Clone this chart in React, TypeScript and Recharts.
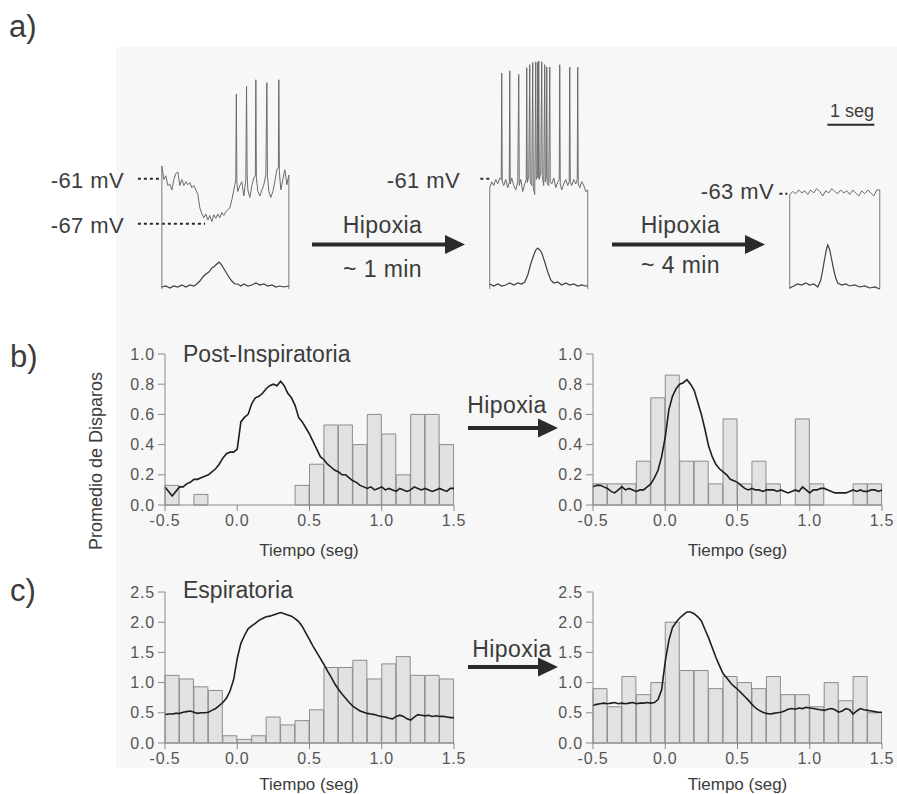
import React from "react"
import { Bar, ComposedChart, Line, LineChart, ReferenceLine, XAxis, YAxis } from "recharts"

const FUENTE = '"Liberation Sans", Arial, Helvetica, sans-serif'
const TEXTO = "#3c3c3c"
const EJE = "#8a8a8a"

// ---------- a) registros intracelulares (t en s, Vm en mV) ----------
const vmControl: [number, number][] = [
  [0, -59.3], [0.043, -61.1], [0.085, -60.6], [0.128, -61.9], [0.17, -61.7], [0.213, -62.5],
  [0.255, -61.1], [0.298, -60.3], [0.34, -60.1], [0.383, -61.9], [0.426, -61.1], [0.468, -61.9],
  [0.511, -61.4], [0.553, -61.8], [0.596, -61.5], [0.638, -62.2], [0.681, -61.9], [0.723, -62.5],
  [0.766, -63.1], [0.809, -64.9], [0.851, -65.7], [0.894, -66.2], [0.936, -65.7], [0.979, -66.5],
  [1.021, -65.9], [1.064, -66.7], [1.106, -65.8], [1.149, -66.3], [1.191, -65.7], [1.234, -66.2],
  [1.277, -65.5], [1.319, -65.9], [1.362, -65.4], [1.404, -65.1], [1.447, -64.9], [1.489, -63.8],
  [1.532, -62.5], [1.553, -61.8], [1.574, -61.1], [1.585, -49.7], [1.596, -61.5], [1.617, -62.7],
  [1.66, -61.9], [1.702, -61.4], [1.745, -63.3], [1.787, -61.1], [1.802, -48.7], [1.815, -60.5],
  [1.83, -62.5], [1.872, -63.5], [1.915, -61.9], [1.957, -60.9], [1.989, -60.6], [2.0, -47.8],
  [2.011, -60.9], [2.043, -62.7], [2.085, -63.3], [2.128, -62.5], [2.17, -61.8], [2.213, -60.5],
  [2.234, -48.2], [2.247, -60.6], [2.277, -62.7], [2.319, -63.5], [2.362, -62.7], [2.404, -61.4],
  [2.447, -59.8], [2.479, -59.5], [2.489, -47.8], [2.5, -60.1], [2.532, -62.5], [2.574, -61.1],
  [2.617, -59.8], [2.66, -61.8], [2.702, -60.5],
]
const vmHipoxia1: [number, number][] = [
  [0, -62.2], [0.043, -61.4], [0.085, -61.9], [0.128, -61.1], [0.17, -61.7], [0.213, -60.9],
  [0.245, -61.1], [0.255, -46.9], [0.266, -61.4], [0.298, -61.9], [0.34, -61.1], [0.383, -62.2],
  [0.415, -61.5], [0.426, -46.6], [0.436, -61.7], [0.468, -60.9], [0.511, -61.9], [0.553, -62.5],
  [0.596, -61.4], [0.617, -47.1], [0.628, -61.9], [0.66, -61.1], [0.702, -62.7], [0.745, -61.7],
  [0.777, -61.1], [0.787, -46.2], [0.798, -61.5], [0.83, -60.6], [0.851, -45.8], [0.862, -61.4],
  [0.894, -61.9], [0.915, -45.5], [0.926, -62.2], [0.957, -63.1], [0.979, -45.4], [0.989, -61.1],
  [1.011, -60.6], [1.021, -45.5], [1.032, -60.9], [1.043, -45.3], [1.053, -61.1], [1.085, -60.1],
  [1.106, -45.4], [1.117, -60.6], [1.149, -61.9], [1.17, -45.8], [1.181, -61.4], [1.202, -60.9],
  [1.213, -46.1], [1.223, -61.7], [1.255, -61.9], [1.277, -46.1], [1.287, -61.4], [1.319, -61.7],
  [1.362, -60.9], [1.404, -62.2], [1.447, -61.4], [1.479, -61.1], [1.489, -45.8], [1.5, -61.7],
  [1.532, -62.5], [1.574, -61.7], [1.617, -61.1], [1.66, -61.9], [1.691, -61.4], [1.702, -46.1],
  [1.713, -61.4], [1.745, -61.9], [1.787, -61.1], [1.83, -61.7], [1.862, -61.1], [1.872, -46.1],
  [1.883, -61.7], [1.915, -62.2], [1.957, -61.4], [2.0, -61.9], [2.043, -62.7], [2.085, -62.5],
]
const vmHipoxia4: [number, number][] = [
  [0, -63.1], [0.064, -62.7], [0.128, -63.0], [0.191, -62.5], [0.255, -62.9], [0.319, -62.6],
  [0.383, -63.1], [0.447, -62.5], [0.511, -62.9], [0.574, -62.3], [0.638, -62.7], [0.702, -63.3],
  [0.766, -62.6], [0.83, -62.9], [0.894, -62.3], [0.957, -62.7], [1.021, -63.0], [1.085, -62.5],
  [1.149, -62.9], [1.213, -62.6], [1.277, -63.1], [1.34, -62.5], [1.404, -62.9], [1.468, -63.3],
  [1.532, -62.6], [1.596, -63.0], [1.66, -62.5], [1.723, -62.9], [1.787, -63.3], [1.851, -62.5],
  [1.915, -62.5],
]
// actividad integrada del nervio (u.a.)
const intControl: [number, number][] = [
  [0, 0.08], [0.085, 0.12], [0.17, 0.04], [0.255, 0.12], [0.34, 0.08], [0.426, 0.16], [0.511, 0.08],
  [0.596, 0.16], [0.681, 0.12], [0.745, 0.2], [0.809, 0.32], [0.872, 0.48], [0.936, 0.6], [1.0, 0.68],
  [1.064, 0.84], [1.128, 0.92], [1.17, 1.0], [1.213, 1.08], [1.255, 1.0], [1.298, 0.88], [1.362, 0.68],
  [1.426, 0.48], [1.489, 0.32], [1.553, 0.2], [1.617, 0.2], [1.681, 0.12], [1.745, 0.2], [1.83, 0.12],
  [1.915, 0.16], [2.0, 0.24], [2.085, 0.16], [2.17, 0.2], [2.255, 0.12], [2.34, 0.16], [2.426, 0.08],
  [2.511, 0.12], [2.596, 0.08], [2.702, 0.12],
]
const intHipoxia1: [number, number][] = [
  [0, 0.2], [0.085, 0.12], [0.17, 0.2], [0.255, 0.12], [0.34, 0.16], [0.426, 0.24], [0.511, 0.16],
  [0.596, 0.24], [0.681, 0.2], [0.745, 0.28], [0.809, 0.56], [0.872, 1.0], [0.936, 1.36], [0.979, 1.56],
  [1.021, 1.64], [1.064, 1.56], [1.106, 1.44], [1.17, 1.08], [1.234, 0.68], [1.298, 0.36], [1.362, 0.24],
  [1.447, 0.28], [1.532, 0.16], [1.617, 0.24], [1.702, 0.16], [1.787, 0.2], [1.872, 0.12], [1.957, 0.16],
  [2.043, 0.12], [2.085, 0.12],
]
const intHipoxia4: [number, number][] = [
  [0, 0.04], [0.085, 0.12], [0.17, 0.2], [0.255, 0.16], [0.34, 0.24], [0.426, 0.16], [0.511, 0.2],
  [0.596, 0.08], [0.66, 0.36], [0.702, 0.76], [0.745, 1.24], [0.787, 1.64], [0.809, 1.76], [0.851, 1.56],
  [0.894, 1.16], [0.936, 0.76], [0.979, 0.44], [1.021, 0.24], [1.106, 0.16], [1.191, 0.2], [1.277, 0.12],
  [1.383, 0.16], [1.489, 0.08], [1.596, 0.12], [1.702, 0.04], [1.809, 0.08], [1.915, 0],
]

// ---------- b) y c) histogramas + promedio ----------
const binsTiempo = [-0.5, -0.4, -0.3, -0.2, -0.1, 0, 0.1, 0.2, 0.3, 0.4, 0.5, 0.6, 0.7, 0.8, 0.9, 1.0, 1.1, 1.2, 1.3, 1.4]
const histPostControl = [0.13, 0, 0.07, 0, 0, 0, 0, 0, 0, 0.13, 0.27, 0.53, 0.53, 0.4, 0.6, 0.47, 0.2, 0.6, 0.6, 0.4]
const histPostHipoxia = [0.14, 0.14, 0.14, 0.29, 0.71, 0.86, 0.29, 0.29, 0.14, 0.57, 0.14, 0.29, 0.14, 0, 0.57, 0.14, 0, 0, 0.14, 0.14]
const histEspControl = [1.12, 1.06, 0.93, 0.87, 0.12, 0.06, 0.12, 0.43, 0.3, 0.37, 0.55, 1.25, 1.25, 1.37, 1.06, 1.31, 1.43, 1.12, 1.12, 1.06]
const histEspHipoxia = [0.9, 0.6, 1.1, 0.8, 1.0, 2.0, 1.2, 1.2, 0.9, 1.1, 1.0, 0.9, 1.1, 0.8, 0.8, 0.6, 1.0, 0.7, 1.1, 0.5]

// promedio continuo, muestreado cada 25 ms desde -0.5 s
const promPostControl = [
  0.12, 0.09, 0.06, 0.09, 0.12, 0.12, 0.14, 0.15, 0.17, 0.17,
  0.18, 0.19, 0.20, 0.22, 0.24, 0.27, 0.31, 0.34, 0.35, 0.35,
  0.37, 0.55, 0.58, 0.60, 0.67, 0.71, 0.72, 0.74, 0.77, 0.79,
  0.80, 0.79, 0.82, 0.79, 0.74, 0.71, 0.66, 0.58, 0.55, 0.51,
  0.47, 0.42, 0.37, 0.32, 0.30, 0.27, 0.25, 0.23, 0.22, 0.20,
  0.20, 0.18, 0.16, 0.15, 0.13, 0.12, 0.11, 0.12, 0.10, 0.11,
  0.12, 0.10, 0.11, 0.10, 0.09, 0.11, 0.10, 0.09, 0.10, 0.12,
  0.11, 0.10, 0.11, 0.10, 0.09, 0.10, 0.11, 0.10, 0.09, 0.11,
  0.11,
]
const promPostHipoxia = [
  0.12, 0.13, 0.13, 0.12, 0.11, 0.09, 0.08, 0.10, 0.12, 0.10,
  0.11, 0.10, 0.09, 0.10, 0.10, 0.12, 0.14, 0.18, 0.23, 0.32,
  0.45, 0.63, 0.72, 0.77, 0.80, 0.81, 0.83, 0.80, 0.76, 0.68,
  0.60, 0.50, 0.39, 0.32, 0.27, 0.24, 0.22, 0.20, 0.17, 0.16,
  0.15, 0.13, 0.11, 0.10, 0.11, 0.10, 0.10, 0.09, 0.10, 0.10,
  0.10, 0.09, 0.10, 0.09, 0.08, 0.09, 0.10, 0.09, 0.12, 0.10,
  0.08, 0.10, 0.10, 0.11, 0.11, 0.10, 0.09, 0.08, 0.08, 0.08,
  0.08, 0.09, 0.10, 0.09, 0.10, 0.09, 0.09, 0.10, 0.10, 0.09,
  0.10,
]
const promEspControl = [
  0.47, 0.48, 0.48, 0.49, 0.49, 0.51, 0.52, 0.53, 0.51, 0.49,
  0.50, 0.50, 0.51, 0.54, 0.57, 0.62, 0.67, 0.74, 0.86, 1.05,
  1.40, 1.65, 1.78, 1.89, 1.94, 1.98, 2.03, 2.06, 2.09, 2.10,
  2.12, 2.14, 2.16, 2.14, 2.12, 2.10, 2.06, 2.01, 1.93, 1.82,
  1.71, 1.60, 1.50, 1.40, 1.30, 1.19, 1.09, 0.98, 0.89, 0.81,
  0.74, 0.67, 0.61, 0.57, 0.53, 0.51, 0.49, 0.48, 0.47, 0.45,
  0.44, 0.43, 0.41, 0.40, 0.44, 0.46, 0.44, 0.40, 0.38, 0.43,
  0.47, 0.46, 0.45, 0.46, 0.44, 0.45, 0.44, 0.44, 0.43, 0.42,
  0.42,
]
const promEspHipoxia = [
  0.62, 0.64, 0.65, 0.66, 0.65, 0.66, 0.67, 0.65, 0.66, 0.65,
  0.66, 0.67, 0.65, 0.66, 0.66, 0.67, 0.66, 0.67, 0.72, 0.88,
  1.35, 1.70, 1.91, 2.00, 2.07, 2.12, 2.17, 2.17, 2.14, 2.09,
  2.02, 1.88, 1.74, 1.58, 1.42, 1.28, 1.15, 1.08, 1.00, 0.94,
  0.89, 0.83, 0.77, 0.71, 0.64, 0.58, 0.54, 0.51, 0.49, 0.48,
  0.49, 0.50, 0.51, 0.53, 0.56, 0.57, 0.56, 0.58, 0.57, 0.59,
  0.58, 0.57, 0.56, 0.55, 0.54, 0.56, 0.57, 0.55, 0.51, 0.53,
  0.57, 0.55, 0.48, 0.53, 0.57, 0.55, 0.54, 0.53, 0.52, 0.51,
  0.51,
]
const ticksTiempo = [-0.5, 0, 0.5, 1, 1.5]
const ticksPost = [0, 0.2, 0.4, 0.6, 0.8, 1.0]
const ticksEsp = [0, 0.5, 1.0, 1.5, 2.0, 2.5]

// ---------- layout ----------
const PX_SEG = 47 // 1 seg en la barra de escala
const REG_TOP = 49
const REG_ALTO = 240
const VM_DOM: [number, number] = [-75.7, -43.7]
const INT_DOM: [number, number] = [0, 9.6]

type Punteada = { desde: number; hasta: number; vm: number }

function Registro({ x0, tIni, vm, integ, punteadas, escala }: {
  x0: number
  tIni: number
  vm: [number, number][]
  integ: [number, number][]
  punteadas: Punteada[]
  escala?: boolean
}) {
  const dur = vm[vm.length - 1][0]
  const m = 4
  const ancho = (dur - tIni) * PX_SEG
  const vmData = vm.map(([t, v]) => ({ t, v }))
  const intData = integ.map(([t, v]) => ({ t, v }))
  return (
    <div style={{ position: "absolute", left: x0 + tIni * PX_SEG - m, top: REG_TOP - m }}>
      <LineChart width={ancho + 2 * m} height={REG_ALTO + 2 * m} margin={{ top: m, right: m, bottom: m, left: m }}>
        <XAxis type="number" dataKey="t" domain={[tIni, dur]} hide height={0} />
        <YAxis yAxisId="vm" type="number" domain={VM_DOM} hide width={0} />
        <YAxis yAxisId="int" type="number" domain={INT_DOM} hide width={0} />
        {punteadas.map((p, i) => (
          <ReferenceLine key={i} yAxisId="vm" segment={[{ x: p.desde, y: p.vm }, { x: p.hasta, y: p.vm }]}
            stroke="#2a2a2a" strokeWidth={2} strokeDasharray="3 3" />
        ))}
        <ReferenceLine yAxisId="vm" segment={[{ x: 0, y: vm[0][1] }, { x: 0, y: VM_DOM[0] }]} stroke="#777" strokeWidth={1} />
        <ReferenceLine yAxisId="vm" segment={[{ x: dur, y: vm[vm.length - 1][1] }, { x: dur, y: VM_DOM[0] }]} stroke="#777" strokeWidth={1} />
        {escala && (
          <ReferenceLine yAxisId="vm" segment={[{ x: 0.8, y: -53.8 }, { x: 1.8, y: -53.8 }]} stroke="#2a2a2a" strokeWidth={2} />
        )}
        <Line yAxisId="int" data={intData} dataKey="v" stroke="#404040" strokeWidth={1.2} dot={false} isAnimationActive={false} />
        <Line yAxisId="vm" data={vmData} dataKey="v" stroke="#6a6a6a" strokeWidth={1} dot={false} isAnimationActive={false} />
      </LineChart>
    </div>
  )
}

function Histograma({ left, top, hist, prom, yMax, yTicks }: {
  left: number
  top: number
  hist: number[]
  prom: number[]
  yMax: number
  yTicks: number[]
}) {
  const barras = binsTiempo.map((b, i) => ({ bin: b, v: hist[i] }))
  const linea = prom.map((v, i) => ({ t: -0.5 + i * 0.025, v }))
  const tick = { fill: "#555", fontSize: 16, fontFamily: FUENTE, letterSpacing: 0.8 }
  return (
    <div style={{ position: "absolute", left: left - 50, top: top - 10 }}>
      <ComposedChart width={50 + 289 + 15} height={10 + 151 + 30} data={barras}
        margin={{ top: 10, right: 15, bottom: 0, left: 0 }} barCategoryGap={0} barGap={0}>
        <XAxis xAxisId="bins" dataKey="bin" hide height={0} />
        <XAxis xAxisId="t" type="number" dataKey="t" domain={[-0.5, 1.5]} ticks={ticksTiempo} interval={0}
          tickFormatter={(v: number) => v.toFixed(1)} height={30} tickSize={6} tickMargin={4}
          axisLine={{ stroke: EJE }} tickLine={{ stroke: EJE }} tick={tick} />
        <YAxis type="number" domain={[0, yMax]} ticks={yTicks} interval={0} width={50}
          tickFormatter={(v: number) => v.toFixed(1)} tickSize={7} tickMargin={3}
          axisLine={{ stroke: EJE }} tickLine={{ stroke: EJE }} tick={tick} />
        <Bar xAxisId="bins" dataKey="v" fill="#e2e2e2" stroke="#8c8c8c" strokeWidth={1} isAnimationActive={false} />
        <Line xAxisId="t" data={linea} dataKey="v" stroke="#1e1e1e" strokeWidth={1.6} dot={false} isAnimationActive={false} />
      </ComposedChart>
    </div>
  )
}

function Flecha({ x1, x2, y }: { x1: number; x2: number; y: number }) {
  return (
    <g>
      <line x1={x1} y1={y} x2={x2 - 16} y2={y} stroke="#2a2a2a" strokeWidth={4} />
      <polygon points={`${x2 - 20},${y - 9.5} ${x2},${y} ${x2 - 20},${y + 9.5}`} fill="#2a2a2a" />
    </g>
  )
}

export default function App() {
  const txt = { fontFamily: FUENTE, fill: TEXTO }
  const grande = { ...txt, fontSize: 23, letterSpacing: 0.4 }
  return (
    <div style={{ position: "absolute", left: 0, top: 0, width: 897, height: 794, background: "#fff", fontFamily: FUENTE }}>
      <svg width={897} height={794} style={{ position: "absolute", left: 0, top: 0 }}>
        <rect x={116} y={47} width={781} height={721} fill="#f7f7f7" />
      </svg>

      <Registro x0={162} tIni={-0.55} vm={vmControl} integ={intControl}
        punteadas={[{ desde: -0.51, hasta: 0, vm: -61 }, { desde: -0.51, hasta: 0.92, vm: -67 }]} />
      <Registro x0={490} tIni={-0.25} vm={vmHipoxia1} integ={intHipoxia1}
        punteadas={[{ desde: -0.2, hasta: 0, vm: -61 }]} />
      <Registro x0={790} tIni={-0.25} vm={vmHipoxia4} integ={intHipoxia4}
        punteadas={[{ desde: -0.22, hasta: -0.05, vm: -63 }]} escala />

      <Histograma left={165} top={354} hist={histPostControl} prom={promPostControl} yMax={1} yTicks={ticksPost} />
      <Histograma left={593} top={354} hist={histPostHipoxia} prom={promPostHipoxia} yMax={1} yTicks={ticksPost} />
      <Histograma left={165} top={592} hist={histEspControl} prom={promEspControl} yMax={2.5} yTicks={ticksEsp} />
      <Histograma left={593} top={592} hist={histEspHipoxia} prom={promEspHipoxia} yMax={2.5} yTicks={ticksEsp} />

      <svg width={897} height={794} style={{ position: "absolute", left: 0, top: 0, pointerEvents: "none" }}>
        <text x={9} y={37} fontSize={31} {...txt}>a)</text>
        <text x={10} y={367} fontSize={31} {...txt}>b)</text>
        <text x={10} y={601} fontSize={31} {...txt}>c)</text>

        <text x={124} y={188} textAnchor="end" {...grande} fontSize={22}>-61 mV</text>
        <text x={124} y={233} textAnchor="end" {...grande} fontSize={22}>-67 mV</text>
        <text x={460} y={188} textAnchor="end" {...grande} fontSize={22}>-61 mV</text>
        <text x={774} y={199} textAnchor="end" {...grande} fontSize={22}>-63 mV</text>
        <text x={852} y={117} fontSize={18} textAnchor="middle" {...txt}>1 seg</text>

        <Flecha x1={312} x2={465} y={244.5} />
        <text x={382.5} y={233} textAnchor="middle" {...grande}>Hipoxia</text>
        <text x={382.5} y={277} textAnchor="middle" {...grande}>~ 1 min</text>
        <Flecha x1={612} x2={765} y={244.5} />
        <text x={680.5} y={233} textAnchor="middle" {...grande}>Hipoxia</text>
        <text x={680.5} y={273} textAnchor="middle" {...grande}>~ 4 min</text>

        <text x={183} y={362} fontSize={23} {...txt}>Post-Inspiratoria</text>
        <text x={183} y={598} fontSize={23} {...txt}>Espiratoria</text>

        <Flecha x1={468} x2={558} y={428} />
        <text x={507} y={413} textAnchor="middle" {...grande}>Hipoxia</text>
        <Flecha x1={468} x2={558} y={667} />
        <text x={512} y={657} textAnchor="middle" {...grande}>Hipoxia</text>

        <text x={309} y={556} fontSize={17} textAnchor="middle" {...txt}>Tiempo (seg)</text>
        <text x={737.5} y={556} fontSize={17} textAnchor="middle" {...txt}>Tiempo (seg)</text>
        <text x={309} y={790} fontSize={17} textAnchor="middle" {...txt}>Tiempo (seg)</text>
        <text x={737.5} y={790} fontSize={17} textAnchor="middle" {...txt}>Tiempo (seg)</text>

        <text x={102} y={461} fontSize={18} textAnchor="middle" transform="rotate(-90 102 461)" {...txt}>
          Promedio de Disparos
        </text>
      </svg>
    </div>
  )
}
